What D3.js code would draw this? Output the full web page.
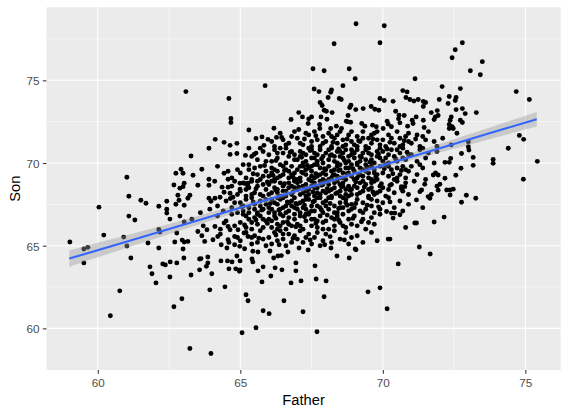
<!DOCTYPE html>
<html><head><meta charset="utf-8">
<script src="https://cdn.jsdelivr.net/npm/d3@7"></script>
<style>html,body{margin:0;padding:0;background:#fff;} svg{display:block;}</style>
</head><body>
<svg id="chart" width="568" height="414"></svg>
<script>
// ---- data (father, son heights in inches) ----
const xTicks = [60, 65, 70, 75];
const yTicks = [60, 65, 70, 75];
const xMinor = [62.5, 67.5, 72.5];
const yMinor = [62.5, 67.5, 72.5, 77.5];

// sparse / outlying points
const sparsePoints = [
[63.09,74.32],[64.6,73.9],[65.87,74.68],[64.67,72.69],[64.67,72.45],[66.78,72.63],[67.05,73.05],[66.18,72.1],[65.3,72.0],[67.05,72.03],
[69.06,78.42],[70.05,78.3],[68.29,77.21],[69.9,77.27],[67.55,75.7],[67.94,75.58],[68.82,75.7],[69.03,75.1],[71.13,75.1],[67.59,74.48],
[67.76,74.32],[68.2,74.42],[68.17,74.28],[68.6,74.68],[68.08,73.96],[68.47,73.9],[68.54,73.84],[67.8,73.66],[67.87,73.48],[67.94,73.19],
[68.02,73.13],[68.22,73.05],[68.88,73.49],[68.84,73.36],[69.05,73.23],[69.31,73.29],[69.59,73.42],[69.72,73.25],[69.86,73.19],[69.9,73.9],
[70.05,73.78],[70.36,73.73],[70.7,74.38],[70.85,74.3],[70.81,73.96],[70.95,73.84],[71.09,73.75],[71.24,73.84],[70.45,73.13],[70.57,72.89],
[70.75,72.87],[71.03,72.59],[71.17,72.79],[67.18,72.79],[67.5,72.79],[67.4,72.67],[67.83,72.79],[68.04,72.65],[68.78,72.87],[68.78,72.49],
[67.38,72.39],[67.78,72.33],[68.72,72.53],[68.87,72.47],[69.26,72.39],[69.37,72.23],[69.64,72.29],[69.77,72.19],[70.15,72.53],[70.19,72.35],
[70.55,72.67],[70.6,72.43],[70.87,72.23],[71.06,72.39],[68.37,72.23],[68.17,72.09],[68.55,72.09],[67.79,72.09],[70.01,72.09],[70.3,72.19],
[72.79,77.27],[72.54,76.85],[72.43,76.37],[73.49,76.13],[73.07,75.58],[73.42,75.34],[72.08,74.62],[72.72,74.5],[74.68,74.32],[75.14,73.84],
[72.33,74.02],[72.57,73.96],[72.54,73.78],[71.98,73.84],[72.29,73.6],[71.42,73.72],[71.5,73.66],[71.42,73.42],[71.7,73.05],[71.91,73.17],
[71.94,72.87],[71.84,72.79],[71.8,72.63],[72.57,73.23],[72.79,73.29],[72.89,72.99],[73.28,73.05],[72.4,72.79],[72.36,72.59],[72.72,72.59],
[72.79,72.45],[71.42,72.59],[72.33,72.33],[72.43,72.19],[72.47,72.09],[72.33,72.09],[71.45,72.15],
[61.02,69.14],[61.09,67.99],[61.51,67.75],[61.69,67.57],[60.04,67.33],[61.09,66.79],[61.3,66.55],[60.21,65.64],[59.02,65.22],[60.91,65.52],
[61.76,65.16],[62.14,67.39],[62.14,65.98],[62.18,65.83],[62.42,67.69],[62.42,67.21],[62.42,66.97],[62.53,66.61],[62.67,68.67],[62.74,69.38],
[62.92,69.62],[62.99,69.38],[63.03,68.78],[62.99,68.57],[62.88,68.48],[62.81,68.05],[62.85,67.75],[62.74,67.51],[63.03,67.45],[62.88,66.79],
[63.03,66.43],[62.77,65.77],[62.7,65.22],[62.96,65.34],[63.03,65.22],
[64.12,71.43],[64.43,71.25],[64.64,71.07],[64.88,71.19],[63.9,70.89],[63.27,70.42],[65.55,71.49],[65.76,71.58],[65.97,71.43],[66.27,71.55],
[65.83,71.07],[64.88,70.58],[64.64,70.52],[65.18,70.46],[65.48,70.52],[65.55,70.6],[63.34,69.26],[63.65,69.62],[63.51,68.66],[63.9,69.02],
[63.9,68.66],[63.23,68.05],[63.16,67.87],[63.9,67.87],[63.97,67.69],[64.11,67.87],[64.29,67.93],[64.43,69.38],[64.57,69.5],[64.57,69.02],
[64.8,68.9],[64.99,68.78],[64.36,68.54],[64.57,68.54],[64.43,68.23],[64.64,68.17],[64.74,67.93],[64.99,68.42],[65.13,68.78],[65.27,68.78],
[63.93,67.21],[63.51,65.86],[63.65,65.6],[63.83,65.96],[64.11,66.16],[64.21,65.56],[64.43,66.37],[64.57,66.16],[64.64,65.96],[64.8,65.56],
[64.92,65.96],[65.13,65.77],[65.27,65.56],[63.16,65.26],[63.75,65.26],[64.04,65.36],[64.57,65.36],[63.3,66.6],[63.6,67.0],[63.7,66.2],
[73.0,71.28],[73.0,70.98],[73.02,70.78],[72.76,70.58],[73.17,70.34],[73.17,69.86],[72.74,69.68],[72.56,69.26],[72.18,70.04],[72.33,70.04],
[72.38,70.28],[72.18,69.08],[71.94,69.28],[71.77,69.28],[71.85,69.4],[72.0,68.72],[71.94,68.36],[72.24,68.37],[72.36,68.37],[72.47,68.42],
[72.36,68.07],[72.93,68.05],[73.26,67.87],[72.76,67.63],[71.59,67.97],[71.65,67.87],[71.3,68.27],[71.36,68.37],[71.47,68.72],[71.18,67.77],
[70.77,68.57],[70.65,68.57],[70.13,67.07],[70.3,66.97],[70.42,66.97],[70.6,66.87],[70.36,66.67],[71.12,66.37],[71.18,66.37],[71.8,66.43],
[72.15,66.73],[70.8,66.1],[70.19,65.4],[70.25,65.4],
[74.79,71.67],[74.94,71.43],[74.4,70.89],[73.87,70.22],[73.87,69.98],[75.42,70.1],[74.93,69.02],
[59.51,63.96],[59.51,64.8],[59.65,64.9],[60.44,60.76],[60.77,62.27],[61.02,64.98],[61.16,64.26],[61.83,63.72],[61.9,63.3],[62.04,62.75],
[62.14,64.86],[62.28,63.9],[62.37,63.84],[62.53,63.11],[62.54,64.02],[62.77,63.96],[62.67,61.31],[62.95,61.79],[62.99,64.8],[63.02,64.26],
[63.27,63.23],[63.23,58.78],[63.57,64.2],[63.57,63.54],
[63.97,58.48],[65.06,59.74],[65.55,60.04],[67.69,59.8],[63.93,62.33],[64.46,62.51],[65.2,62.03],[65.27,61.67],[65.8,61.07],[66.01,60.89],
[66.53,61.67],[67.2,61.01],[64.0,63.3],[63.86,63.96],[63.81,63.75],[63.86,64.32],[63.62,64.22],[64.32,64.08],[64.55,64.08],[64.71,64.02],
[64.6,63.6],[64.84,63.6],[64.97,63.45],[64.99,63.54],[64.88,64.38],[64.99,64.08],[65.41,64.2],[65.44,64.02],[65.62,64.62],[65.44,64.66],
[65.62,63.48],[65.8,63.72],[65.76,62.81],[66.07,63.17],[66.22,63.66],[66.17,64.26],[66.32,64.38],[66.44,64.4],[66.46,63.54],[66.04,64.68],
[66.67,64.62],[66.95,63.96],[66.95,63.48],[66.78,62.75],[67.13,62.87],[67.06,64.86],[67.38,64.74],[67.62,63.78],[67.66,62.99],
[64.33,65.06],[64.53,64.86],[64.8,65.06],[64.98,64.96],[65.15,64.82],[66.36,65.06],
[68.01,62.87],[67.94,61.91],[69.48,62.21],[69.9,62.45],[70.15,61.19],[70.54,63.9],[71.28,64.92],[71.66,64.5],[68.39,64.38],[68.82,64.26],
[69.03,64.8],[69.06,64.75],[68.18,64.86],[67.96,65.06]
];

// dense central cloud
const densePoints = [
[66.1,71.3],[66.4,71.8],[66.6,71.1],[66.8,71.6],[66.2,71.0],[66.9,71.9],[66.5,71.4],[66.7,71.2],
[67.0,71.5],[67.2,71.1],[67.3,71.8],[67.5,71.3],[67.6,71.9],[67.8,71.0],[67.9,71.6],[67.1,71.2],[67.4,71.7],[67.7,71.4],[67.5,71.0],[67.9,71.2],
[68.0,71.3],[68.1,71.8],[68.2,71.0],[68.3,71.5],[68.4,71.2],[68.5,71.9],[68.6,71.4],[68.7,71.1],[68.8,71.7],[68.9,71.3],[68.2,71.6],[68.6,71.0],[68.4,71.7],[68.9,71.9],
[69.0,71.1],[69.1,71.6],[69.2,71.3],[69.3,71.9],[69.4,71.0],[69.5,71.5],[69.6,71.2],[69.7,71.8],[69.8,71.4],[69.9,71.1],[69.3,71.5],[69.6,71.7],[69.1,71.0],[69.8,71.9],
[70.0,71.4],[70.1,71.0],[70.2,71.7],[70.4,71.2],[70.5,71.9],[70.6,71.5],[70.7,71.1],[70.8,71.6],[70.9,71.3],[70.3,71.5],[70.6,71.0],[70.9,71.8],
[71.0,71.2],[71.2,71.7],[71.3,71.0],[71.5,71.4],[71.6,71.9],[71.8,71.3],[71.4,71.6],[71.9,71.0],
[72.1,71.5],[72.4,71.1],[72.6,71.8],
[65.3,70.9],[65.6,70.2],[65.8,70.7],[65.9,70.1],[65.4,70.4],[65.7,70.9],
[66.0,70.5],[66.1,70.1],[66.2,70.8],[66.3,70.3],[66.4,70.9],[66.5,70.6],[66.6,70.0],[66.7,70.4],[66.8,70.7],[66.9,70.2],[66.3,70.6],[66.6,70.9],[66.9,70.5],
[67.0,70.2],[67.1,70.7],[67.2,70.0],[67.3,70.5],[67.4,70.9],[67.5,70.3],[67.6,70.6],[67.7,70.1],[67.8,70.8],[67.9,70.4],[67.1,70.4],[67.3,70.1],[67.5,70.8],[67.7,70.5],[67.9,70.0],[67.2,70.6],[67.6,70.3],
[68.0,70.6],[68.1,70.2],[68.2,70.9],[68.3,70.4],[68.4,70.0],[68.5,70.7],[68.6,70.3],[68.7,70.8],[68.8,70.1],[68.9,70.5],[68.1,70.8],[68.3,70.1],[68.5,70.4],[68.7,70.0],[68.9,70.8],[68.2,70.5],[68.4,70.7],[68.6,70.6],[68.8,70.4],
[69.0,70.3],[69.1,70.8],[69.2,70.1],[69.3,70.6],[69.4,70.2],[69.5,70.9],[69.6,70.5],[69.7,70.0],[69.8,70.7],[69.9,70.3],[69.0,70.6],[69.2,70.4],[69.4,70.8],[69.6,70.2],[69.8,70.4],[69.1,70.0],[69.5,70.6],[69.9,70.9],
[70.0,70.7],[70.1,70.3],[70.2,70.0],[70.3,70.8],[70.4,70.4],[70.5,70.1],[70.6,70.6],[70.7,70.9],[70.8,70.2],[70.9,70.5],[70.2,70.5],[70.5,70.8],[70.7,70.3],[70.0,70.1],
[71.0,70.5],[71.2,70.1],[71.3,70.8],[71.5,70.3],[71.6,70.6],[71.8,70.0],[71.9,70.7],[71.4,70.9],
[64.2,69.8],[64.7,69.1],[64.9,69.6],
[65.0,69.4],[65.1,69.9],[65.2,69.1],[65.3,69.6],[65.4,69.0],[65.5,69.7],[65.6,69.3],[65.7,69.8],[65.8,69.2],[65.9,69.5],[65.3,69.9],[65.7,69.0],
[66.0,69.2],[66.1,69.7],[66.2,69.0],[66.3,69.5],[66.4,69.9],[66.5,69.3],[66.6,69.6],[66.7,69.1],[66.8,69.8],[66.9,69.4],[66.1,69.4],[66.3,69.1],[66.5,69.8],[66.7,69.5],[66.9,69.0],[66.2,69.6],[66.4,69.2],[66.8,69.3],
[67.0,69.6],[67.1,69.1],[67.2,69.8],[67.3,69.3],[67.4,69.0],[67.5,69.5],[67.6,69.9],[67.7,69.2],[67.8,69.7],[67.9,69.4],[67.0,69.0],[67.2,69.4],[67.4,69.7],[67.6,69.1],[67.8,69.3],[67.1,69.8],[67.3,69.6],[67.5,69.2],[67.7,69.9],[67.9,69.0],[67.5,69.8],
[68.0,69.3],[68.1,69.8],[68.2,69.1],[68.3,69.6],[68.4,69.2],[68.5,69.9],[68.6,69.4],[68.7,69.0],[68.8,69.7],[68.9,69.2],[68.0,69.6],[68.2,69.5],[68.4,69.8],[68.6,69.1],[68.8,69.4],[68.1,69.0],[68.3,69.3],[68.5,69.6],[68.7,69.7],[68.9,69.9],[68.5,69.1],
[69.0,69.5],[69.1,69.1],[69.2,69.7],[69.3,69.2],[69.4,69.9],[69.5,69.4],[69.6,69.0],[69.7,69.6],[69.8,69.3],[69.9,69.8],[69.0,69.0],[69.2,69.3],[69.4,69.5],[69.6,69.8],[69.8,69.0],[69.1,69.9],[69.3,69.6],[69.5,69.1],[69.7,69.4],
[70.0,69.4],[70.1,69.9],[70.2,69.2],[70.3,69.6],[70.4,69.0],[70.5,69.7],[70.6,69.3],[70.7,69.8],[70.8,69.1],[70.9,69.5],[70.2,69.8],[70.5,69.1],[70.8,69.6],
[71.0,69.8],[71.2,69.3],[71.4,69.7],[71.5,69.0],[71.3,69.9],
[64.1,68.9],[64.7,68.6],[64.9,68.1],
[65.0,68.3],[65.1,68.8],[65.2,68.0],[65.3,68.5],[65.4,68.9],[65.5,68.2],[65.6,68.6],[65.7,68.1],[65.8,68.7],[65.9,68.4],[65.2,68.4],[65.4,68.1],[65.6,68.9],[65.8,68.0],
[66.0,68.7],[66.1,68.2],[66.2,68.9],[66.3,68.4],[66.4,68.0],[66.5,68.6],[66.6,68.3],[66.7,68.8],[66.8,68.1],[66.9,68.5],[66.0,68.1],[66.2,68.5],[66.4,68.8],[66.6,68.0],[66.8,68.6],[66.1,68.9],[66.3,68.2],[66.5,68.3],[66.7,68.5],[66.9,68.9],
[67.0,68.4],[67.1,68.9],[67.2,68.2],[67.3,68.7],[67.4,68.1],[67.5,68.6],[67.6,68.0],[67.7,68.5],[67.8,68.9],[67.9,68.3],[67.0,68.8],[67.2,68.6],[67.4,68.4],[67.6,68.8],[67.8,68.1],[67.1,68.1],[67.3,68.3],[67.5,68.9],[67.7,68.2],[67.9,68.7],[67.3,68.0],[67.6,68.5],
[68.0,68.2],[68.1,68.7],[68.2,68.0],[68.3,68.5],[68.4,68.9],[68.5,68.3],[68.6,68.8],[68.7,68.1],[68.8,68.6],[68.9,68.4],[68.0,68.9],[68.2,68.4],[68.4,68.2],[68.6,68.6],[68.8,68.0],[68.1,68.3],[68.3,68.8],[68.5,68.7],[68.7,68.4],[68.9,68.1],[68.5,68.0],
[69.0,68.6],[69.1,68.1],[69.2,68.8],[69.3,68.3],[69.4,68.7],[69.5,68.0],[69.6,68.5],[69.7,68.9],[69.8,68.2],[69.9,68.6],[69.1,68.5],[69.3,68.9],[69.5,68.4],[69.7,68.1],[69.9,68.3],[69.2,68.2],[69.6,68.8],
[70.0,68.5],[70.1,68.0],[70.3,68.7],[70.4,68.2],[70.5,68.9],[70.7,68.3],[70.8,68.8],[70.9,68.1],[70.2,68.4],
[71.1,68.9],[71.7,68.1],[71.9,68.6],
[64.2,67.4],[64.4,67.1],[64.5,67.7],[64.7,67.3],[64.8,67.6],[64.9,67.0],
[65.0,67.6],[65.1,67.1],[65.2,67.8],[65.3,67.3],[65.4,67.9],[65.5,67.5],[65.6,67.0],[65.7,67.7],[65.8,67.2],[65.9,67.8],[65.1,67.4],[65.3,67.0],[65.5,67.2],[65.7,67.4],[65.9,67.5],
[66.0,67.3],[66.1,67.8],[66.2,67.0],[66.3,67.5],[66.4,67.2],[66.5,67.9],[66.6,67.4],[66.7,67.1],[66.8,67.7],[66.9,67.3],[66.0,67.0],[66.2,67.6],[66.4,67.8],[66.6,67.0],[66.8,67.4],[66.1,67.2],[66.3,67.9],[66.5,67.3],[66.7,67.6],[66.9,67.9],
[67.0,67.5],[67.1,67.0],[67.2,67.7],[67.3,67.2],[67.4,67.8],[67.5,67.4],[67.6,67.1],[67.7,67.9],[67.8,67.3],[67.9,67.6],[67.0,67.2],[67.2,67.3],[67.4,67.0],[67.6,67.7],[67.8,67.9],[67.1,67.6],[67.3,67.8],[67.5,67.1],[67.7,67.4],[67.9,67.0],
[68.0,67.7],[68.1,67.2],[68.2,67.9],[68.3,67.4],[68.4,67.0],[68.5,67.6],[68.6,67.3],[68.7,67.8],[68.8,67.1],[68.9,67.5],[68.1,67.9],[68.3,67.0],[68.5,67.3],[68.7,67.6],[68.9,67.2],[68.0,67.4],[68.6,67.9],
[69.0,67.3],[69.1,67.8],[69.2,67.1],[69.3,67.6],[69.4,67.2],[69.5,67.9],[69.6,67.4],[69.7,67.0],[69.8,67.7],[69.9,67.2],[69.3,67.0],[69.6,67.8],
[70.0,67.6],[70.2,67.9],[70.4,67.3],[70.6,67.7],[70.7,67.1],[70.9,67.5],[71.4,67.3],
[64.2,66.8],[64.5,66.5],[64.7,66.9],[64.8,66.2],[64.3,66.0],
[65.0,66.4],[65.1,66.9],[65.2,66.1],[65.3,66.6],[65.4,66.0],[65.5,66.7],[65.6,66.3],[65.7,66.8],[65.8,66.1],[65.9,66.5],[65.2,66.8],[65.4,66.4],[65.6,66.9],[65.8,66.6],
[66.0,66.6],[66.1,66.1],[66.2,66.8],[66.3,66.3],[66.4,66.9],[66.5,66.4],[66.6,66.0],[66.7,66.7],[66.8,66.2],[66.9,66.6],[66.1,66.5],[66.3,66.0],[66.5,66.8],[66.7,66.3],[66.9,66.9],[66.4,66.2],
[67.0,66.3],[67.1,66.8],[67.2,66.0],[67.3,66.5],[67.4,66.9],[67.5,66.2],[67.6,66.6],[67.7,66.1],[67.8,66.8],[67.9,66.4],[67.1,66.2],[67.3,66.9],[67.5,66.6],[67.7,66.5],[67.9,66.0],
[68.0,66.5],[68.1,66.0],[68.2,66.7],[68.3,66.2],[68.4,66.8],[68.5,66.4],[68.6,66.9],[68.7,66.1],[68.8,66.6],[68.9,66.3],[68.3,66.6],[68.6,66.2],
[69.0,66.8],[69.1,66.2],[69.3,66.6],[69.4,66.0],[69.6,66.7],[69.7,66.3],[69.9,66.9],[69.5,66.4],
[64.3,65.7],[64.6,65.2],[64.9,65.5],
[65.0,65.3],[65.2,65.8],[65.4,65.1],[65.5,65.6],[65.6,65.2],[65.7,65.9],[65.8,65.4],[65.9,65.0],[65.4,65.5],
[66.0,65.5],[66.1,65.1],[66.2,65.8],[66.3,65.3],[66.4,65.9],[66.5,65.4],[66.6,65.0],[66.7,65.7],[66.8,65.2],[66.9,65.6],[66.5,65.7],
[67.0,65.4],[67.1,65.9],[67.2,65.2],[67.4,65.7],[67.5,65.1],[67.6,65.5],[67.7,65.8],[67.8,65.0],[67.9,65.3],[67.3,65.5],
[68.0,65.7],[68.2,65.2],[68.3,65.9],[68.5,65.4],[68.7,65.8],[68.8,65.1],[68.9,65.5],
[69.1,65.6],[69.3,65.2],[69.6,65.8],[69.8,65.3]
];

// extra points filling the darkest part of the cloud
const corePoints = [
[66.25,70.15],[66.75,70.65],[67.15,70.35],[67.45,70.75],[67.85,70.25],[68.15,70.45],[68.45,70.85],[68.65,70.15],[68.95,70.65],[69.25,70.35],
[69.55,70.05],[69.85,70.55],[70.15,70.85],[70.45,70.25],[70.85,70.65],
[65.45,69.35],[65.85,69.85],[66.15,69.25],[66.55,69.55],[66.85,69.15],[67.15,69.45],[67.35,69.85],[67.65,69.35],[67.95,69.65],[68.25,69.25],
[68.45,69.55],[68.75,69.35],[68.95,69.65],[69.15,69.25],[69.45,69.75],[69.75,69.15],[70.05,69.65],[70.35,69.35],[70.65,69.55],
[65.25,68.65],[65.55,68.45],[65.95,68.85],[66.25,68.35],[66.55,68.75],[66.85,68.25],[67.05,68.55],[67.35,68.45],[67.55,68.25],[67.85,68.65],
[68.05,68.45],[68.35,68.15],[68.55,68.55],[68.85,68.35],[69.05,68.85],[69.35,68.55],[69.65,68.25],[69.95,68.75],[70.25,68.65],[70.65,68.45],
[64.65,67.85],[65.05,67.35],[65.45,67.65],[65.75,67.15],[66.05,67.55],[66.35,67.15],[66.65,67.65],[66.95,67.55],[67.25,67.45],[67.55,67.65],
[67.85,67.15],[68.15,67.55],[68.45,67.25],[68.75,67.45],[69.05,67.55],[69.45,67.45],[69.85,67.35],[70.25,67.65],
[65.15,66.25],[65.55,66.55],[65.95,66.35],[66.25,66.65],[66.65,66.45],[66.95,66.15],[67.25,66.75],[67.65,66.35],[68.05,66.85],[68.45,66.55],
[68.95,66.65],[69.25,66.45],
[66.45,71.55],[67.25,71.45],[67.65,71.65],[68.25,71.25],[68.75,71.45],[69.15,71.35],[69.65,71.45],[70.25,71.25],[70.75,71.35],[71.15,71.45],
[65.65,65.45],[66.25,65.65],[66.85,65.45],[67.45,65.35],[68.15,65.55],[68.65,65.35]
];

// linear fit and its 95% band
const fitFather = [59.0, 61, 63, 65, 67.7, 70, 72, 74, 75.4];
const fitSon    = [64.22, 65.24, 66.27, 67.30, 68.69, 69.87, 70.90, 71.93, 72.65];
const fitLower  = [63.73, 64.86, 65.98, 67.09, 68.54, 69.68, 70.63, 71.56, 72.21];
const fitUpper  = [64.71, 65.63, 66.56, 67.50, 68.84, 70.06, 71.17, 72.29, 73.08];

// ---- drawing ----
const W = 568, H = 414;
const m = {top: 7.3, right: 7.3, bottom: 44, left: 46.5};
const points = sparsePoints.concat(densePoints, corePoints);
const svg = d3.select("#chart");
svg.append("rect").attr("width", W).attr("height", H).attr("fill", "#fff");

const xe = d3.extent(points, d => d[0]), ye = d3.extent(points, d => d[1]);
const xp = (xe[1] - xe[0]) * 0.05, yp = (ye[1] - ye[0]) * 0.05;
const x = d3.scaleLinear().domain([xe[0] - xp, xe[1] + xp]).range([m.left, W - m.right]);
const y = d3.scaleLinear().domain([ye[0] - yp, ye[1] + yp]).range([H - m.bottom, m.top]);

svg.append("defs").append("clipPath").attr("id", "clip")
  .append("rect").attr("x", m.left).attr("y", m.top)
  .attr("width", W - m.left - m.right).attr("height", H - m.top - m.bottom);

svg.append("rect").attr("x", m.left).attr("y", m.top)
  .attr("width", W - m.left - m.right).attr("height", H - m.top - m.bottom)
  .attr("fill", "#EBEBEB");

const grid = svg.append("g").attr("clip-path", "url(#clip)");
grid.selectAll(".xmin").data(xMinor).join("line")
  .attr("x1", d => x(d)).attr("x2", d => x(d)).attr("y1", m.top).attr("y2", H - m.bottom)
  .attr("stroke", "#fff").attr("stroke-width", 0.53);
grid.selectAll(".ymin").data(yMinor).join("line")
  .attr("y1", d => y(d)).attr("y2", d => y(d)).attr("x1", m.left).attr("x2", W - m.right)
  .attr("stroke", "#fff").attr("stroke-width", 0.53);
grid.selectAll(".xmaj").data(xTicks).join("line")
  .attr("x1", d => x(d)).attr("x2", d => x(d)).attr("y1", m.top).attr("y2", H - m.bottom)
  .attr("stroke", "#fff").attr("stroke-width", 1.07);
grid.selectAll(".ymaj").data(yTicks).join("line")
  .attr("y1", d => y(d)).attr("y2", d => y(d)).attr("x1", m.left).attr("x2", W - m.right)
  .attr("stroke", "#fff").attr("stroke-width", 1.07);

const plot = svg.append("g").attr("clip-path", "url(#clip)");
plot.selectAll("circle").data(points).join("circle")
  .attr("cx", d => x(d[0])).attr("cy", d => y(d[1])).attr("r", 2.45).attr("fill", "#000");

const fit = fitFather.map((f, i) => ({f, s: fitSon[i], lo: fitLower[i], hi: fitUpper[i]}));
plot.append("path").datum(fit)
  .attr("d", d3.area().x(d => x(d.f)).y0(d => y(d.lo)).y1(d => y(d.hi)).curve(d3.curveMonotoneX))
  .attr("fill", "#999999").attr("fill-opacity", 0.4);
plot.append("path").datum(fit)
  .attr("d", d3.line().x(d => x(d.f)).y(d => y(d.s)))
  .attr("fill", "none").attr("stroke", "#3366FF").attr("stroke-width", 2.1);

const font = "'Liberation Sans', Arial, sans-serif";
const xAxis = svg.append("g").attr("transform", `translate(0,${H - m.bottom})`)
  .call(d3.axisBottom(x).tickValues(xTicks).tickSize(3.67).tickPadding(5.3).tickFormat(d3.format("d")));
const yAxis = svg.append("g").attr("transform", `translate(${m.left},0)`)
  .call(d3.axisLeft(y).tickValues(yTicks).tickSize(3.67).tickPadding(3.4).tickFormat(d3.format("d")));
[xAxis, yAxis].forEach(g => {
  g.select(".domain").remove();
  g.selectAll(".tick line").attr("stroke", "#333333").attr("stroke-width", 1.07);
  g.selectAll(".tick text").attr("fill", "#4D4D4D").style("font-family", font).style("font-size", "11.7px");
});
yAxis.selectAll(".tick text").attr("dy", "0.38em");

svg.append("text").attr("x", (m.left + W - m.right) / 2).attr("y", 405)
  .attr("text-anchor", "middle").style("font-family", font).style("font-size", "14.7px").attr("fill", "#000")
  .text("Father");
svg.append("text").attr("transform", `translate(19.5,${(m.top + H - m.bottom) / 2}) rotate(-90)`)
  .attr("text-anchor", "middle").style("font-family", font).style("font-size", "14.7px").attr("fill", "#000")
  .text("Son");
</script>
</body></html>
